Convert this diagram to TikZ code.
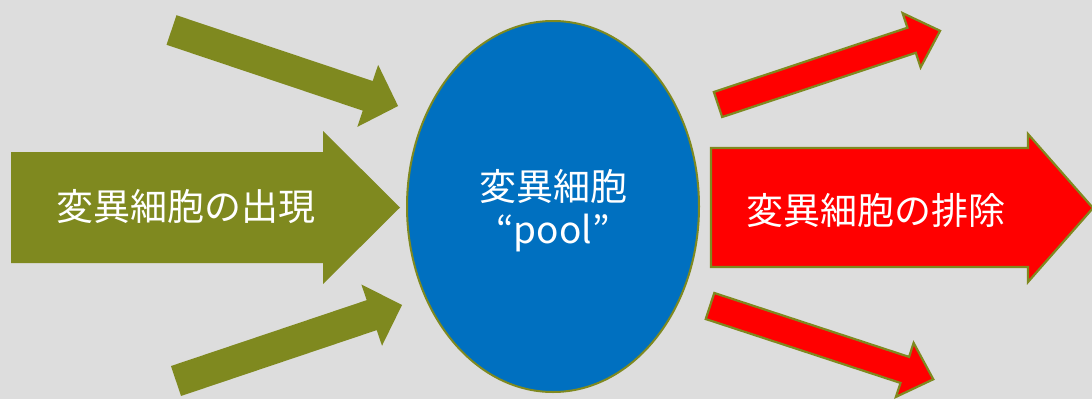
\documentclass[tikz,border=0pt]{standalone}
\usepackage{fontspec}
\setmainfont{Noto Sans CJK JP}
\usetikzlibrary{shapes.geometric}
\definecolor{olive}{RGB}{127,137,31}
\definecolor{poolblue}{RGB}{0,112,192}
\definecolor{bg}{RGB}{221,221,221}
\newcommand\blockarrow[8]{%
  \draw[#1, shift={(#2,#3)}, rotate=#4] (0,-#6) -- (#5-#8,-#6) -- (#5-#8,-#7) -- (#5,0)
    -- (#5-#8,#7) -- (#5-#8,#6) -- (0,#6) -- cycle;}
\begin{document}
\begin{tikzpicture}[x=1pt,y=-1pt,
  inarrow/.style={fill=olive, draw=none},
  outarrow/.style={fill=red, draw=olive, line width=2.2pt, line join=miter},
  lbl/.style={text=white, font=\fontsize{37}{43}\selectfont, inner sep=0pt, align=center}]
\fill[bg] (0,0) rectangle (1092,399);
\useasboundingbox (0,0) rectangle (1092,399);
% small incoming arrows
\blockarrow{inarrow}{171.5}{30}{-18.55}{239}{15.6}{32.7}{32}
\blockarrow{inarrow}{176}{381}{18.6}{238.5}{15.8}{32.3}{32}
% big incoming arrow
\fill[olive] (11,152) -- (323,152) -- (323,131) -- (400,207.5) -- (323,284) -- (323,263) -- (11,263) -- cycle;
\node[lbl] (appear) at (186,207) {変異細胞の出現};
% pool
\node[ellipse, draw=olive, line width=2pt, fill=poolblue, minimum width=292pt, minimum height=371pt, inner sep=0pt] (pool) at (553,206.5) {};
\node[lbl] (pooltext) at (553,211) {変異細胞\\“pool”};
% small outgoing arrows
\blockarrow{outarrow}{718}{104.5}{18.36}{234}{13.2}{28.6}{30}
\blockarrow{outarrow}{710}{306}{-18.17}{235}{13.7}{28.4}{30}
% big outgoing arrow
\draw[outarrow] (711,148) -- (1028,148) -- (1028,134) -- (1093,208) -- (1028,282) -- (1028,267) -- (711,267) -- cycle;
\node[lbl] (remove) at (876,210) {変異細胞の排除};
\end{tikzpicture}
\end{document}
